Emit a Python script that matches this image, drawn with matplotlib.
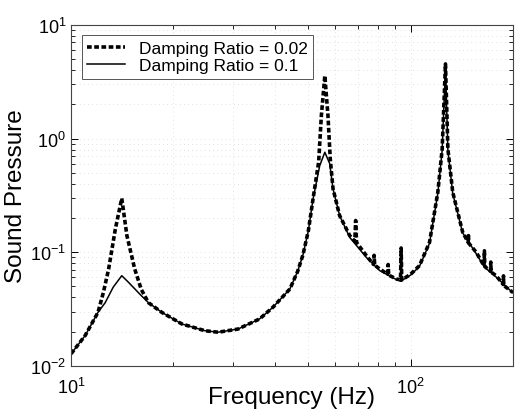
import matplotlib
matplotlib.use("Agg")
from matplotlib import pyplot as plt
from matplotlib.ticker import LogLocator, NullFormatter

plt.rcParams['font.family'] = ['Liberation Sans', 'DejaVu Sans']
plt.rcParams['mathtext.default'] = 'regular'

# damping ratio 0.02 (dashed)
freq_low = [10, 11.0, 12.0, 12.45, 12.9, 13.5, 14.1, 14.6, 15.4, 16.1, 16.9, 18.5,
            21.2, 24.8, 27.1, 31.0, 35.9, 39.3, 44.1, 46.5, 48.2, 50.0, 51.6, 53.6, 54.6, 55.9,
            57.1, 58.0, 59.1, 61.8, 66.2, 68.5, 68.9, 69.3, 74.1, 77.8, 78.1, 78.4,
            81.1, 85.6, 85.9, 86.2, 90.8, 93.4, 93.8, 94.2, 100, 106.2, 113.7,
            120.3, 123.9, 126.7, 128.8, 133.1, 142.4, 147.8, 148.1, 148.4, 156.1,
            164.6, 165, 165.4, 172.0, 172.3, 172.6, 178.7, 187.5, 187.8, 188.1, 200]
press_low = [0.0128, 0.0185, 0.0296, 0.0444, 0.0713, 0.160, 0.298, 0.140, 0.071, 0.047, 0.036, 0.0296,
             0.0234, 0.0204, 0.0198, 0.0211, 0.0259, 0.0328, 0.0475, 0.068, 0.095, 0.155, 0.294, 0.62, 1.59, 3.57,
             1.59, 0.66, 0.361, 0.210, 0.140, 0.125, 0.190, 0.122, 0.0933, 0.078, 0.094, 0.077,
             0.0713, 0.064, 0.078, 0.063, 0.0582, 0.057, 0.109, 0.057, 0.0640, 0.0762, 0.122,
             0.337, 0.809, 4.53, 0.81, 0.337, 0.150, 0.122, 0.140, 0.120, 0.100,
             0.076, 0.103, 0.075, 0.068, 0.082, 0.067, 0.0622, 0.052, 0.062, 0.051, 0.0444]

# damping ratio 0.1 (solid)
freq_high = [10, 11.0, 12.0, 12.6, 13.3, 14.1, 14.75, 16.1, 16.9, 18.5, 21.2, 24.8,
             27.1, 31.0, 35.9, 39.3, 44.1, 46.5, 48.2, 50.0, 51.6, 54.0, 55.9, 57.8, 59.1, 61.8,
             66.2, 74.1, 81.1, 90.8, 93.8, 100, 106.2, 113.7, 120.3, 123.9, 126.7,
             128.8, 133.1, 142.4, 156.1, 165, 178.7, 200]
press_high = [0.0128, 0.0185, 0.0296, 0.036, 0.0492, 0.0622, 0.0545, 0.0415, 0.036, 0.0296, 0.0234, 0.0204,
              0.0198, 0.0211, 0.0259, 0.0328, 0.0475, 0.068, 0.095, 0.155, 0.294, 0.578, 0.757, 0.60, 0.361, 0.210,
              0.135, 0.0900, 0.0690, 0.0575, 0.0560, 0.0630, 0.0750, 0.120, 0.330, 0.790, 4.3,
              0.79, 0.330, 0.148, 0.097, 0.074, 0.0605, 0.0440]

fig = plt.figure(figsize=(5.19, 4.10), dpi=100)
ax = fig.add_axes([0.137, 0.105, 0.851, 0.832])

ax.loglog(freq_low, press_low, color='black', lw=2.6, linestyle=(0, (1.3, 0.7)),
          label='Damping Ratio = 0.02')
ax.loglog(freq_high, press_high, color='black', lw=1.1, label='Damping Ratio = 0.1')

ax.set_xlim(10, 200)
ax.set_ylim(1e-2, 1e1)

ax.xaxis.set_major_locator(LogLocator(base=10))
ax.yaxis.set_major_locator(LogLocator(base=10))
ax.xaxis.set_minor_locator(LogLocator(base=10, subs=range(2, 10)))
ax.yaxis.set_minor_locator(LogLocator(base=10, subs=range(2, 10)))
ax.xaxis.set_minor_formatter(NullFormatter())
ax.yaxis.set_minor_formatter(NullFormatter())

ax.tick_params(which='both', direction='in', top=True, right=True, labelsize=13, colors='black')
ax.tick_params(which='major', length=5, width=0.7)
ax.tick_params(which='minor', length=3, width=0.6)
ax.tick_params(axis='x', pad=8)

ax.grid(which='both', linestyle=(0, (1, 5)), linewidth=0.5, color='#c8c8c8')
for s in ax.spines.values():
    s.set_color('#444444')
    s.set_linewidth(0.8)

ax.set_xlabel('Frequency (Hz)', fontsize=17.5, labelpad=-8)
ax.set_ylabel('Sound Pressure', fontsize=17.5, labelpad=2)

leg = ax.legend(loc='upper left', fontsize=12.5, handlelength=2.2, handletextpad=0.8,
                borderpad=0.3, labelspacing=0.15, fancybox=False, framealpha=1,
                borderaxespad=0.6)
leg.get_frame().set_edgecolor('#555555')
leg.get_frame().set_linewidth(0.7)

fig.savefig('out.png', dpi=100)
